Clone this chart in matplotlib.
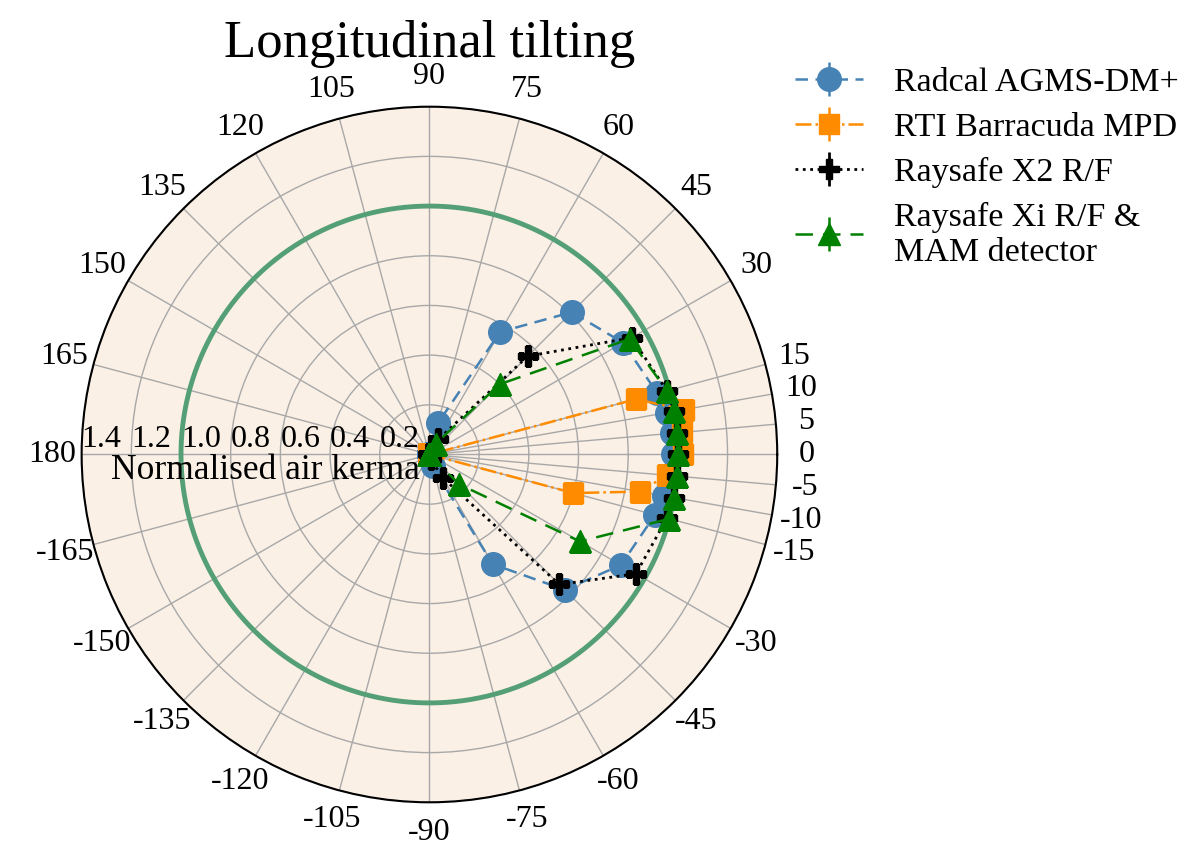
import numpy as np
import matplotlib
matplotlib.use("Agg")
import matplotlib.pyplot as plt

plt.rcParams['font.family'] = ['Liberation Serif', 'DejaVu Serif']

# angles (deg) and normalised air kerma for each detector
angles = [-180, -165, -150, -135, -120, -105, -90, -75, -60, -45, -30, -15, -10, -5,
          0, 5, 10, 15, 30, 45, 60, 75, 90, 105, 120, 135, 150, 165, 180]
radcal = [0, 0, 0, 0, 0, 0, 0, 0.05, 0.51, 0.77, 0.89, 0.94, 0.96, 0.97,
          0.98, 0.98, 0.97, 0.95, 0.90, 0.81, 0.57, 0.13, 0, 0, 0, 0, 0, 0, 0]
rti = [0, 0, 0, 0, 0, 0, 0, 0, 0, 0, 0, 0.60, 0.86, 0.96,
       1.02, 1.02, 1.04, 0.86, 0, 0, 0, 0, 0, 0, 0, 0, 0, 0, 0]
x2 = [0, 0, 0, 0, 0, 0, 0, 0.02, 0.11, 0.74, 0.96, 0.99, 1.0, 1.0,
      1.0, 1.0, 1.0, 0.99, 0.94, 0.56, 0.07, 0, 0, 0, 0, 0, 0, 0, 0]
xi = [0, 0, 0, 0, 0, 0, 0, 0, 0, 0.17, 0.70, 1.0, 1.0, 1.0,
      1.0, 1.0, 1.0, 0.99, 0.93, 0.40, 0.05, 0, 0, 0, 0, 0, 0, 0, 0]

labels = ["Radcal AGMS-DM+", "RTI Barracuda MPD", "Raysafe X2 R/F",
          "Raysafe Xi R/F &\nMAM detector"]

tick_deg = [0, 5, 10, 15, 30, 45, 60, 75, 90, 105, 120, 135, 150, 165, 180,
            -165, -150, -135, -120, -105, -90, -75, -60, -45, -30, -15, -10, -5]
r_ticks = [0.2, 0.4, 0.6, 0.8, 1.0, 1.2, 1.4]

fig = plt.figure(figsize=(11.83, 8.44), dpi=100)
ax = fig.add_axes([0.069, 0.049, 0.588, 0.825], projection='polar')
ax.set_facecolor('#faf0e6')

th = np.deg2rad(angles)
zeros = np.zeros(len(angles))

# reference circle at 1.0
full = np.linspace(0, 2 * np.pi, 400)
ax.plot(full, np.ones_like(full), color='#559f76', lw=3.5, zorder=2)

ax.errorbar(th, radcal, yerr=zeros, fmt='o', ls=(0, (5, 3)), color='steelblue',
            ms=17, lw=1.8, label=labels[0], zorder=3)
ax.errorbar(th, rti, yerr=zeros, fmt='s', ls='-.', color='darkorange',
            ms=14, lw=1.8, label=labels[1], zorder=4)
ax.errorbar(th, x2, yerr=zeros, fmt='P', ls=':', color='black',
            ms=15, lw=2, label=labels[2], zorder=5)
ax.errorbar(th, xi, yerr=zeros, fmt='^', ls=(0, (7, 4)), color='green',
            ms=16, lw=1.8, label=labels[3], zorder=6)

ax.set_thetagrids([t % 360 for t in tick_deg], [str(t) for t in tick_deg], fontsize=23)
ax.set_thetalim(0, 2 * np.pi)
ax.set_rlim(0, 1.4)
ax.set_rticks(r_ticks)
ax.set_yticklabels(["%.1f" % r for r in r_ticks])
ax.tick_params(axis='y', labelsize=23)
ax.set_rlabel_position(180)
ax.tick_params(axis='x', pad=11)
ax.grid(True, color='#a8a8a8', lw=1)
ax.spines['polar'].set_color('black')
ax.spines['polar'].set_linewidth(1.5)

ax.text(np.pi, 0.66, "Normalised air kerma", fontsize=25.5, ha='center', va='top')

fig.text(0.3635, 0.948, "Longitudinal tilting", fontsize=38, ha='center', va='center')

fig.legend(loc='upper left', bbox_to_anchor=(0.646, 0.957), frameon=False,
           fontsize=24.5, handlelength=2.0, handletextpad=0.9, labelspacing=0.41)

fig.savefig('out.png', dpi=100)
